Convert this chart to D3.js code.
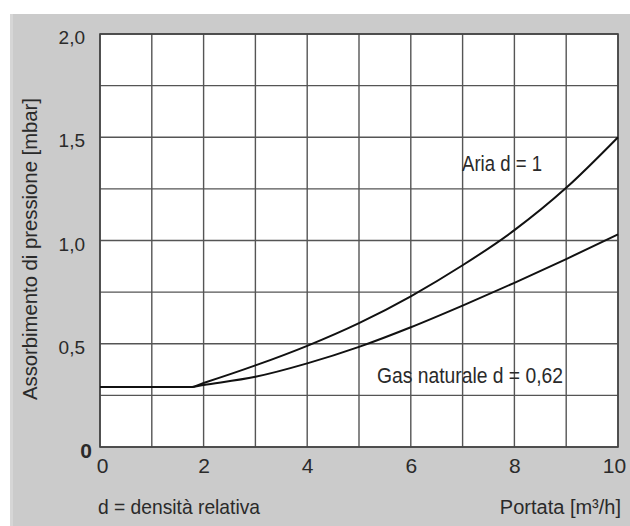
<!DOCTYPE html>
<html><head><meta charset="utf-8">
<script src="https://cdn.jsdelivr.net/npm/d3@7"></script>
<style>
html,body{margin:0;padding:0;background:#fff;}
text{font-family:"Liberation Sans Narrow","Liberation Sans",Arial,sans-serif;fill:#2a2a2a;}
</style></head>
<body><svg id="c" width="630" height="526"></svg>
<script>
// Data
const flowX = [0, 1.75, 2, 3, 4, 5, 6, 7, 8, 9, 10];
const ariaY = [0.29, 0.29, 0.31, 0.395, 0.49, 0.60, 0.73, 0.88, 1.05, 1.255, 1.50];
const gasY  = [0.29, 0.29, 0.30, 0.34, 0.405, 0.485, 0.58, 0.685, 0.795, 0.91, 1.03];
const xTickValues = [0, 2, 4, 6, 8, 10];
const xTickLabels = ["0", "2", "4", "6", "8", "10"];
const yTickValues = [0, 0.5, 1.0, 1.5, 2.0];
const yTickLabels = ["0", "0,5", "1,0", "1,5", "2,0"];
const seriesNames = ["Aria d = 1", "Gas naturale d = 0,62"];

(function () {
const svg = d3.select("#c");
const W = 630, H = 526;
const pL = 100, pR = 618, pT = 34, pB = 447;
const FONT = '"Liberation Sans Narrow","Liberation Sans",Arial,sans-serif';

svg.append("rect").attr("x", 10).attr("y", 14).attr("width", W - 10).attr("height", H - 14).attr("fill", "#cbcbcb");
svg.append("rect").attr("x", 10).attr("y", 14).attr("width", 3).attr("height", H - 14).attr("fill", "#d6d6d6");

const x = d3.scaleLinear().domain([0, 10]).range([pL, pR]);
const y = d3.scaleLinear().domain([0, 2]).range([pB, pT]);

svg.append("rect").attr("x", pL).attr("y", pT).attr("width", pR - pL).attr("height", pB - pT).attr("fill", "#fff");

const grid = svg.append("g").attr("stroke", "#555").attr("stroke-width", 1.4);
d3.range(0, 11, 1).forEach(v => {
  grid.append("line").attr("x1", x(v)).attr("x2", x(v)).attr("y1", pT).attr("y2", pB);
});
d3.range(0, 2.001, 0.25).forEach(v => {
  grid.append("line").attr("x1", pL).attr("x2", pR).attr("y1", y(v)).attr("y2", y(v));
});
svg.append("rect").attr("x", pL).attr("y", pT).attr("width", pR - pL).attr("height", pB - pT)
  .attr("fill", "none").attr("stroke", "#444").attr("stroke-width", 1.6);

// Axes (labels only)
const xAxis = d3.axisBottom(x).tickValues(xTickValues).tickFormat((d, i) => xTickLabels[i]).tickSize(0).tickPadding(0);
const gx = svg.append("g").attr("transform", `translate(0,${pB})`).call(xAxis);
gx.select(".domain").remove();
gx.selectAll("text").attr("y", 26).attr("dy", 0).style("font-size", "21px")
  .style("font-family", FONT).attr("fill", "#2a2a2a")
  .attr("dx", (d) => d === 0 ? 2 : (d === 10 ? -4 : 0));

const yAxis = d3.axisLeft(y).tickValues(yTickValues).tickFormat((d, i) => yTickLabels[i]).tickSize(0).tickPadding(0);
const gy = svg.append("g").attr("transform", `translate(85,0)`).call(yAxis);
gy.select(".domain").remove();
gy.selectAll("text")
  .style("font-family", FONT).attr("fill", "#2a2a2a")
  .attr("dy", "0.5em")
  .attr("x", d => d === 0 ? 7 : 0)
  .style("font-size", d => d === 0 ? "21px" : "19px")
  .style("font-weight", d => d === 0 ? "bold" : "normal");

// Curves
const line = d3.line().x(d => x(d[0])).y(d => y(d[1])).curve(d3.curveMonotoneX);
[ariaY, gasY].forEach(vals => {
  svg.append("path").datum(flowX.map((v, i) => [v, vals[i]]))
    .attr("d", line).attr("fill", "none").attr("stroke", "#111").attr("stroke-width", 2);
});

// Series labels
svg.append("text").attr("x", 462).attr("y", 171).attr("textLength", 80).attr("lengthAdjust", "spacingAndGlyphs")
  .style("font-size", "22px").text(seriesNames[0]);
svg.append("text").attr("x", 377).attr("y", 383).attr("textLength", 186).attr("lengthAdjust", "spacingAndGlyphs")
  .style("font-size", "22px").text(seriesNames[1]);

// Axis titles
svg.append("text").attr("transform", "translate(37,249) rotate(-90)").attr("text-anchor", "middle")
  .attr("textLength", 302).attr("lengthAdjust", "spacingAndGlyphs").style("font-size", "21px")
  .text("Assorbimento di pressione [mbar]");
svg.append("text").attr("x", 98).attr("y", 514).attr("textLength", 162).attr("lengthAdjust", "spacingAndGlyphs")
  .style("font-size", "21px").text("d = densità relativa");
svg.append("text").attr("x", 621).attr("y", 514).attr("text-anchor", "end")
  .style("font-size", "20px").text("Portata [m³/h]");
})();
</script></body></html>
